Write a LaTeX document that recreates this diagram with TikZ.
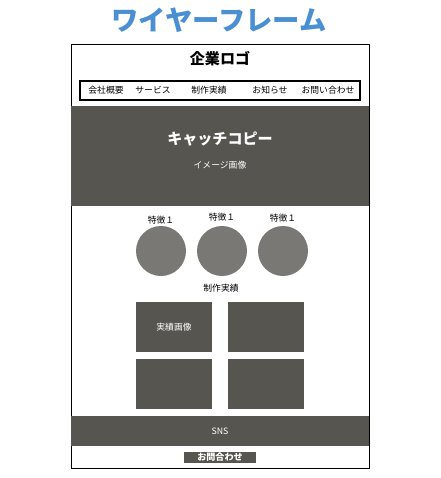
\documentclass[tikz,border=0pt]{standalone}
\usepackage{fontspec}
\setmainfont{Noto Sans CJK JP}
\definecolor{wfblue}{HTML}{4A8FD2}
\definecolor{wfdark}{HTML}{575550}
\definecolor{wfgray}{HTML}{7A7874}

\begin{document}
\begin{tikzpicture}[x=0.75pt, y=-0.75pt,
    every node/.style = {inner sep=0pt, align=center},
    small/.style = {font=\fontsize{6.6}{8}\selectfont},
    darkpanel/.style = {fill=wfdark},
    photo/.style = {circle, fill=wfgray, minimum size=37.5pt}]
  \useasboundingbox (0,0) rectangle (441,478);
  % title
  \node[text=wfblue, font=\fontsize{20.5}{22}\bfseries] (title) at (219,20) {ワイヤーフレーム};
  % header
  \draw[line width=0.75pt] (71,45) coordinate (frametl) rectangle (369,468) coordinate (framebr);
  \node[font=\fontsize{11.3}{13}\bfseries] (logo) at (220,59) {企業ロゴ};
  \draw[line width=1.5pt] (80,81) rectangle (360,100);
  \node[small] (nav1) at (106,90.5) {会社概要};
  \node[small] (nav2) at (153,90.5) {サービス};
  \node[small] (nav3) at (209,90.5) {制作実績};
  \node[small] (nav4) at (270,90.5) {お知らせ};
  \node[small] (nav5) at (328,90.5) {お問い合わせ};
  % main visual
  \fill[darkpanel] (71,106) rectangle (369,206);
  \node[text=white, font=\fontsize{11.3}{13}\bfseries] (catch) at (220,139) {キャッチコピー};
  \node[small, text=white] (hero) at (220,165) {イメージ画像};
  % features
  \foreach \n/\x/\y in {1/161/220, 2/222/217, 3/283/218} {
    \node[small] (label\n) at (\x,\y) {特徴１};
    \node[photo] (feat\n) at (\x,251) {};
  }
  \node[small] (works) at (221,288) {制作実績};
  \fill[darkpanel] (136,302) rectangle (212,352);
  \fill[darkpanel] (228,302) rectangle (304,352);
  \fill[darkpanel] (136,359) rectangle (212,409);
  \fill[darkpanel] (228,359) rectangle (304,409);
  \node[small, text=white] (work1) at (174,327) {実績画像};
  % footer
  \fill[darkpanel] (71,416) rectangle (369,446);
  \node[small, text=white] (sns) at (220,431) {SNS};
  \node[darkpanel, small, text=white, font=\fontsize{6.8}{8}\bfseries,
    minimum width=54pt, minimum height=8.5pt] (contact) at (220,457.5) {お問合わせ};
\end{tikzpicture}
\end{document}
